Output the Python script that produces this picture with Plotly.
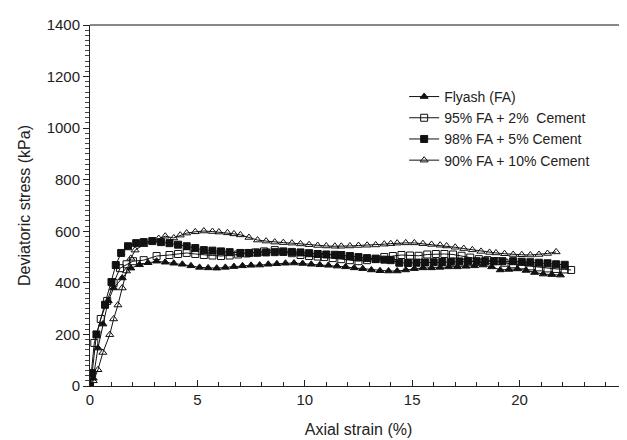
import plotly.graph_objects as go

# Flyash (FA) - filled triangles
fa_x = [0, 0.15, 0.37, 0.6, 0.85, 1.1, 1.5, 1.9, 2.3, 2.7, 3.1, 3.5, 3.9, 4.3, 4.7, 5.1, 5.5, 5.9,
        6.3, 6.7, 7.1, 7.5, 7.9, 8.3, 8.7, 9.1, 9.5, 9.9, 10.3, 10.7, 11.1, 11.5, 11.9, 12.3, 12.7,
        13.1, 13.5, 13.9, 14.3, 14.7, 15.1, 15.5, 15.9, 16.3, 16.7, 17.1, 17.5, 17.9, 18.3, 18.7,
        19.1, 19.5, 19.9, 20.3, 20.7, 21.1, 21.5, 21.9]
fa_y = [0, 30, 147, 240, 330, 380, 419, 457, 470, 478, 484, 480, 476, 472, 466, 460, 458, 457,
        460, 463, 466, 468, 469, 472, 474, 476, 477, 475, 472, 470, 468, 465, 462, 458, 455,
        450, 447, 446, 446, 450, 455, 458, 458, 460, 462, 462, 464, 466, 469, 462,
        450, 452, 454, 448, 440, 434, 432, 430]

# 95% FA + 2% Cement - open squares
c2_x = [0, 0.2, 0.5, 0.8, 1.1, 1.4, 1.7, 2.0, 2.5, 3.1, 3.7, 4.1, 4.5, 4.9, 5.3, 5.7, 6.1, 6.5,
        6.9, 7.3, 7.7, 8.1, 8.6, 9.0, 9.4, 9.8, 10.2, 10.6, 10.9, 11.3, 11.7, 12.1, 12.5, 12.9,
        13.3, 13.7, 14.1, 14.5, 14.9, 15.3, 15.7, 16.1, 16.5, 16.9, 17.3, 17.7, 18.1, 18.5, 18.9,
        19.3, 19.7, 20.1, 20.5, 20.9, 21.3, 21.7, 22.1, 22.4]
c2_y = [0, 167, 260, 330, 400, 457, 472, 484, 488, 504, 508, 512, 516, 512, 508, 506, 504, 506,
        510, 514, 518, 522, 527, 522, 515, 508, 504, 502, 500, 496, 492, 488, 484, 488,
        494, 500, 504, 508, 506, 505, 510, 512, 512, 510, 505, 498, 492, 488, 484,
        478, 472, 468, 464, 460, 456, 454, 452, 450]

# 98% FA + 5% Cement - filled squares
c5_x = [0, 0.1, 0.3, 0.7, 1.0, 1.2, 1.45, 1.77, 2.15, 2.5, 2.9, 3.3, 3.7, 4.1, 4.5, 4.9, 5.3, 5.7,
        6.1, 6.5, 7.0, 7.4, 7.8, 8.2, 8.6, 9.0, 9.4, 9.8, 10.2, 10.6, 11.0, 11.4, 11.7, 12.1, 12.5,
        12.9, 13.3, 13.7, 14.0, 14.4, 14.8, 15.2, 15.6, 16.0, 16.4, 16.8, 17.2, 17.6, 18.0, 18.4,
        18.8, 19.2, 19.7, 20.1, 20.5, 20.9, 21.3, 21.7, 22.1]
c5_y = [0, 50, 200, 315, 403, 469, 516, 542, 554, 558, 562, 558, 554, 548, 542, 535, 527, 525,
        522, 519, 516, 516, 517, 518, 519, 520, 520, 518, 515, 512, 510, 509, 508, 504, 500,
        496, 492, 490, 488, 478, 477, 478, 479, 480, 481, 482, 483, 484, 484, 484,
        484, 484, 484, 482, 480, 478, 476, 472, 470]

# 90% FA + 10% Cement - open triangles
c10_x = [0, 0.15, 0.37, 0.6, 0.92, 1.1, 1.3, 1.5, 1.7, 1.9, 2.1, 2.5, 2.9, 3.2, 3.5, 3.9, 4.2, 4.5,
         4.9, 5.3, 5.7, 6.0, 6.4, 6.7, 7.0, 7.4, 7.8, 8.2, 8.6, 9.0, 9.4, 9.8, 10.2, 10.6, 11.0,
         11.4, 11.7, 12.1, 12.5, 12.9, 13.3, 13.7, 14.0, 14.3, 14.7, 15.1, 15.5, 15.9, 16.3, 16.6,
         17.0, 17.4, 17.8, 18.2, 18.6, 18.9, 19.3, 19.7, 20.1, 20.5, 20.9, 21.3, 21.7]
c10_y = [0, 20, 63, 130, 199, 260, 314, 380, 446, 495, 527, 548, 562, 572, 581, 574, 585, 593,
         598, 601, 599, 597, 594, 590, 586, 576, 566, 562, 558, 556, 554, 551, 548, 545, 543,
         542, 542, 543, 545, 546, 547, 550, 552, 554, 555, 555, 552, 549, 546, 543,
         538, 533, 528, 522, 518, 516, 513, 510, 509, 508, 510, 514, 520]

names = ["Flyash (FA)", "95% FA + 2%  Cement", "98% FA + 5% Cement", "90% FA + 10% Cement"]
symbols = ["triangle-up", "square-open", "square", "triangle-up-open"]
xs = [fa_x, c2_x, c5_x, c10_x]
ys = [fa_y, c2_y, c5_y, c10_y]

fig = go.Figure()
for x, y, n, s in zip(xs, ys, names, symbols):
    fig.add_trace(go.Scatter(
        x=x, y=y, name=n, mode="lines+markers",
        line=dict(color="#111111", width=1),
        marker=dict(symbol=s, size=7, color="#111111",
                    line=dict(color="#111111", width=1)),
    ))

fig.update_layout(
    width=627, height=440,
    margin=dict(l=82, r=8, t=17, b=62),
    paper_bgcolor="white", plot_bgcolor="white",
    font=dict(family="Liberation Sans, Arial, sans-serif", color="#222222", size=15),
    showlegend=True,
    legend=dict(x=0.585, y=0.845, xanchor="left", yanchor="top",
                bgcolor="rgba(0,0,0,0)", font=dict(size=14), tracegroupgap=0,
                itemwidth=30),
    xaxis=dict(range=[0, 25], dtick=5, showgrid=False, zeroline=False,
               showline=True, linecolor="#222222", linewidth=1,
               ticks="inside", ticklen=6, tickcolor="#222222",
               minor=dict(dtick=1, ticks="inside", ticklen=4, tickcolor="#222222"),
               tickfont=dict(size=15),
               title=dict(text="Axial strain (%)", font=dict(size=16), standoff=16)),
    yaxis=dict(range=[0, 1400], dtick=200, showgrid=False, zeroline=False,
               showline=True, linecolor="#222222", linewidth=1,
               ticks="outside", ticklen=6, tickcolor="#222222",
               minor=dict(dtick=20, ticks="outside", ticklen=4, tickcolor="#444444"),
               tickfont=dict(size=15),
               title=dict(text="Deviatoric stress (kPa)", font=dict(size=16), standoff=12)),
    shapes=[
        dict(type="line", xref="paper", yref="paper", x0=0, x1=1, y0=1, y1=1,
             line=dict(color="#888888", width=2)),
        dict(type="line", xref="paper", yref="paper", x0=1, x1=1, y0=0, y1=1,
             line=dict(color="#888888", width=2)),
    ],
)

fig.write_html("out.html")
